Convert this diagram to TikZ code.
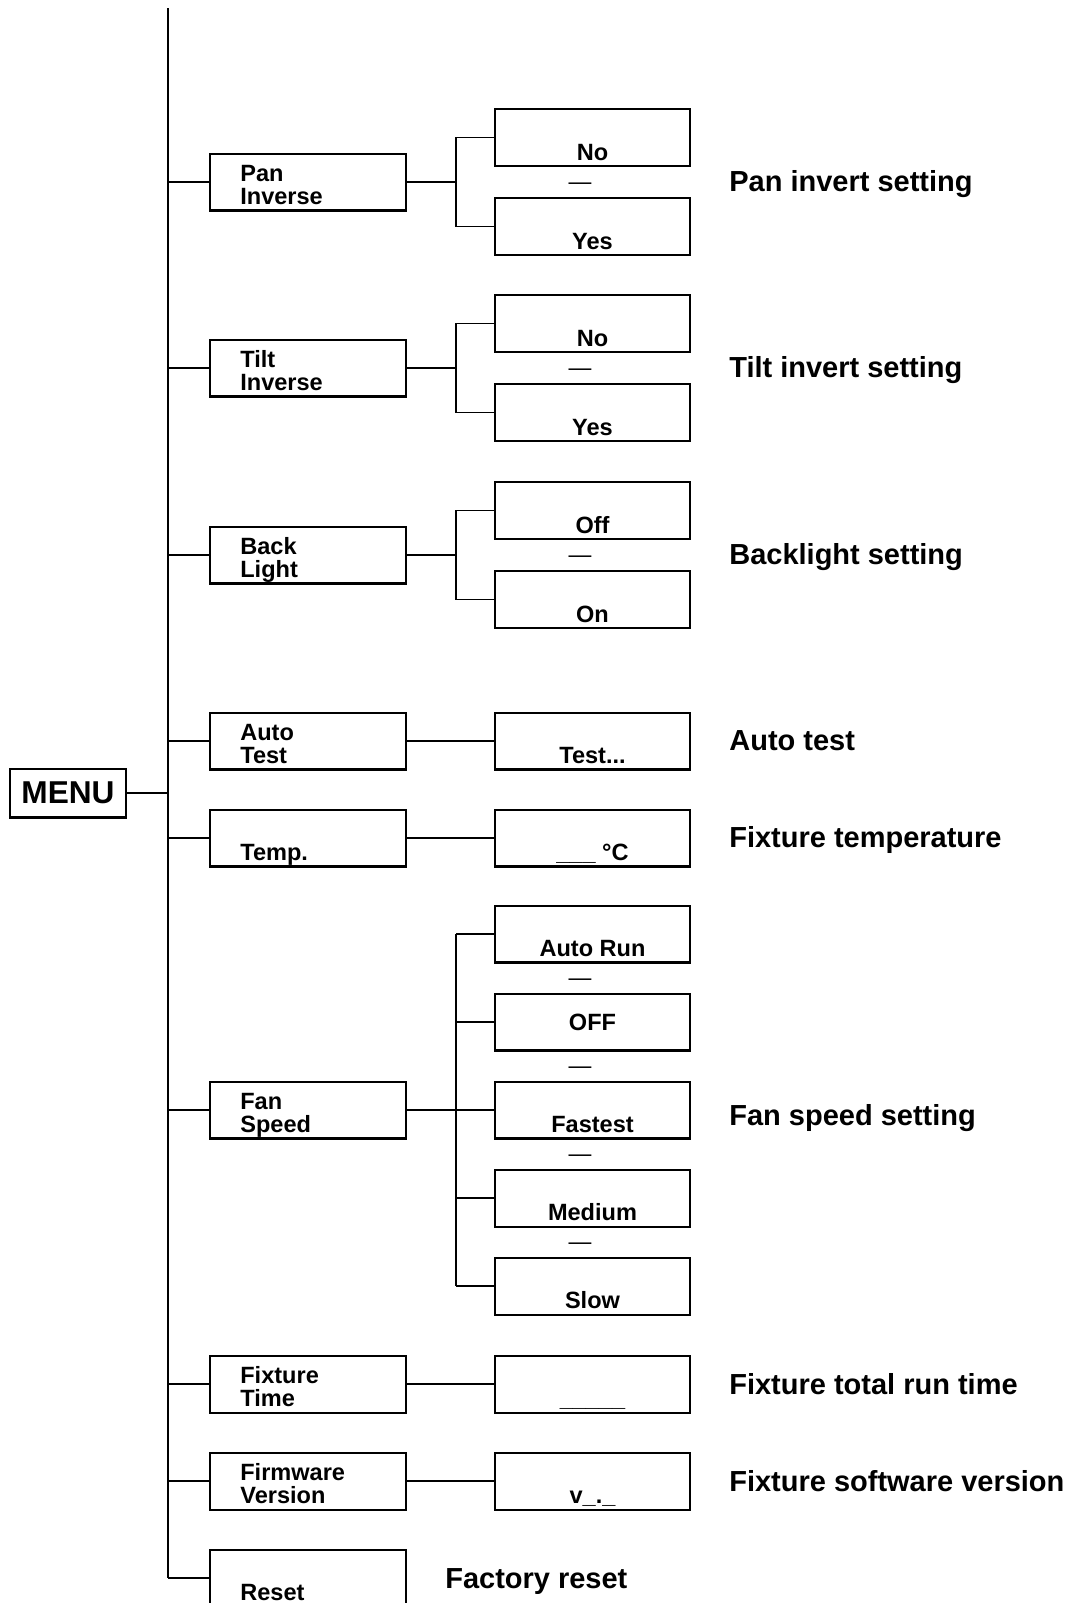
\documentclass[tikz,border=0pt]{standalone}
\usepackage{fontspec}
\setmainfont{Liberation Sans}
\usetikzlibrary{calc, positioning}

\tikzset{
    itembox/.style={draw, line width=1.15pt, minimum width=3.92cm, minimum height=1.14cm, inner sep=0pt},
    valuebox/.style={draw, line width=1.15pt, minimum width=3.9cm, minimum height=1.14cm, inner sep=0pt},
    itemtext/.style={font=\fontsize{13.4}{13.3}\selectfont\bfseries, inner sep=0pt, align=left, anchor=base west},
    valuetext/.style={font=\fontsize{13.4}{13.3}\selectfont\bfseries, inner sep=0pt, anchor=base},
    sepdash/.style={font=\fontsize{13}{13.3}\selectfont, inner sep=0pt, anchor=base},
    note/.style={font=\fontsize{16.5}{18}\selectfont\bfseries, inner sep=0pt, anchor=base west},
    link/.style={line width=0.95pt},
}

\begin{document}
\begin{tikzpicture}[x=0.02cm, y=-0.02cm]
    \useasboundingbox (0,0) rectangle (1066,1603);
    \clip (0,0) rectangle (1066,1603);

    % columnas
    \coordinate (top)  at (168,8);
    \coordinate (vcol) at (592.5,0);
    \coordinate (dcol) at (580,0);
    \coordinate (scol) at (456,0);

    % MENU
    \node[draw, line width=1.15pt, minimum width=2.32cm, minimum height=0.98cm, inner sep=0pt,
          font=\fontsize{18}{18}\selectfont\bfseries] (menu) at (68,793) {MENU};

    % Elementos del menu
    \foreach \n/\y in {pan/182, tilt/368, back/555, auto/741, temp/838,
                       fan/1110, time/1384, firm/1481, reset/1578}{
        \node[itembox] (\n) at (308,\y) {};
        \draw[link] (\n.west -| top) -- (\n.west);
    }
    \draw[line width=1.25pt] (top) -- (reset.west -| top);
    \draw[link] (menu.east) -- (menu.east -| top);

    % Etiquetas de los elementos
    \node[itemtext] (pan-l)   at ($(pan.south west)+(31,-7)$)   {Pan\\Inverse};
    \node[itemtext] (tilt-l)  at ($(tilt.south west)+(31,-7)$)  {Tilt\\Inverse};
    \node[itemtext] (back-l)  at ($(back.south west)+(31,-7)$)  {Back\\Light};
    \node[itemtext] (auto-l)  at ($(auto.south west)+(31,-7)$)  {Auto\\Test};
    \node[itemtext] (temp-l)  at ($(temp.south west)+(31,-7)$)  {Temp.};
    \node[itemtext] (fan-l)   at ($(fan.south west)+(31,-7)$)   {Fan\\Speed};
    \node[itemtext] (time-l)  at ($(time.south west)+(31,-7)$)  {Fixture\\Time};
    \node[itemtext] (firm-l)  at ($(firm.south west)+(31,-7)$)  {Firmware\\Version};
    \node[itemtext] (reset-l) at ($(reset.south west)+(31,-7)$) {Reset};

    % Opciones de dos valores
    \foreach \n/\a/\b in {pan/No/Yes, tilt/No/Yes, back/Off/On}{
        \node[valuebox] (\n-a) at ($(\n -| vcol)+(0,-44.5)$) {};
        \node[valuebox] (\n-b) at ($(\n -| vcol)+(0,44.5)$)  {};
        \node[valuetext] (\n-at) at ($(\n-a.south)+(0,-7)$) {\a};
        \node[valuetext] (\n-bt) at ($(\n-b.south)+(0,-7)$) {\b};
        \node[sepdash] (\n-d) at ($(\n -| dcol)+(0,7.4)$) {—};
        \draw[link] (\n.east) -- (\n -| scol);
        \draw[link] (\n-a.west) -| (\n -| scol) |- (\n-b.west);
    }

    % Valores simples
    \foreach \n in {auto, temp, time, firm}{
        \node[valuebox] (\n-v) at (\n -| vcol) {};
        \draw[link] (\n.east) -- (\n-v.west);
    }
    \node[valuetext] (auto-vt) at ($(auto-v.south)+(0,-7)$) {Test...};
    \node[valuetext] (temp-vt) at ($(temp-v.south)+(0,-7)$) {\_\_\_ °C};
    \node[valuetext] (time-vt) at ($(time-v.south)+(0,-7)$) {\_\_\_\_\_};
    \node[valuetext] (firm-vt) at ($(firm-v.south)+(0,-7)$) {v\_.\_};

    % Velocidad del ventilador
    \foreach \o/\k/\t in {run/-2/Auto Run, fast/0/Fastest, med/1/Medium, slow/2/Slow}{
        \node[valuebox] (fan-\o) at ($(fan -| vcol)+(0,\k*88)$) {};
        \node[valuetext] (fan-\o t) at ($(fan-\o.south)+(0,-7)$) {\t};
    }
    \node[valuebox] (fan-off) at ($(fan -| vcol)+(0,-88)$) {};
    \node[valuetext, anchor=center] (fan-off t) at (fan-off) {OFF};
    \foreach \o in {run, off, fast, med, slow}{
        \draw[link] (fan-\o.west -| scol) -- (fan-\o.west);
    }
    \foreach \k in {-2,...,1}{
        \node[sepdash] (fan-d\k) at ($(fan -| dcol)+(0,\k*88+44+7.4)$) {—};
    }
    \draw[link] (fan.east) -- (fan -| scol);
    \draw[link] (fan-run.west -| scol) -- (fan-slow.west -| scol);

    % Descripciones
    \node[note] (pan-n)   at (729,191)  {Pan invert setting};
    \node[note] (tilt-n)  at (729,377)  {Tilt invert setting};
    \node[note] (back-n)  at (729,564)  {Backlight setting};
    \node[note] (auto-n)  at (729,750)  {Auto test};
    \node[note] (temp-n)  at (729,847)  {Fixture temperature};
    \node[note] (fan-n)   at (729,1125) {Fan speed setting};
    \node[note] (time-n)  at (729,1394) {Fixture total run time};
    \node[note] (firm-n)  at (729,1491) {Fixture software version};
    \node[note] (reset-n) at (445,1588) {Factory reset};
\end{tikzpicture}
\end{document}
